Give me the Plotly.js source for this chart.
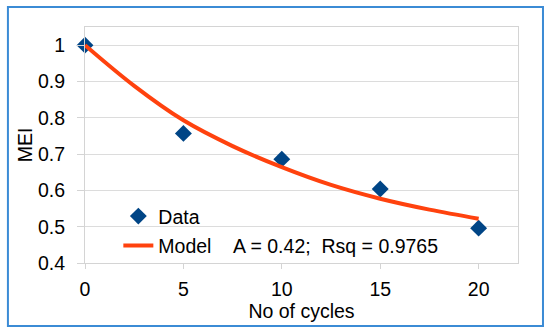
<!DOCTYPE html>
<html>
<head>
<meta charset="utf-8">
<script src="https://cdn.plot.ly/plotly-3.0.1.min.js"></script>
<style>
html,body{margin:0;padding:0;background:#fff;}
#chart{width:550px;height:330px;}
</style>
</head>
<body>
<div id="chart"></div>
<script>
// Measured data points
var cycles = [0, 5, 10, 15, 20];
var mei = [1.0, 0.757, 0.686, 0.604, 0.496];

// Model curve
var modelX = [0, 2.5, 5, 7.5, 10, 12.5, 15, 17.5, 20];
var modelY = [1.0, 0.888, 0.793, 0.722, 0.664, 0.615, 0.577, 0.547, 0.522];

var xTicks = [0, 5, 10, 15, 20];
var yTicks = [0.4, 0.5, 0.6, 0.7, 0.8, 0.9, 1];
var yTickText = ['0.4', '0.5', '0.6', '0.7', '0.8', '0.9', '1'];

var dataName = "Data";
var modelName = "Model\u00a0\u00a0\u00a0\u00a0A = 0.42;\u00a0\u00a0Rsq = 0.9765";

var traces = [
  {
    x: cycles, y: mei, type: 'scatter', mode: 'markers', name: dataName,
    legendgroup: 'a',
    marker: {symbol: 'diamond', size: 13, color: '#004586'},
    cliponaxis: false
  },
  {
    x: modelX, y: modelY, type: 'scatter', mode: 'lines', name: modelName,
    legendgroup: 'b',
    line: {color: '#ff420e', width: 4, shape: 'spline'},
    cliponaxis: false
  }
];

var fam = 'Liberation Sans, Arial, sans-serif';
var font = {family: fam, size: 19.5, color: '#000'};

var layout = {
  width: 550, height: 330,
  margin: {l: 85, r: 32, t: 27, b: 67},
  paper_bgcolor: '#fff', plot_bgcolor: '#fff',
  font: font,
  showlegend: true,
  legend: {
    x: 0.077, y: 0.28, xanchor: 'left', yanchor: 'top',
    bgcolor: 'rgba(0,0,0,0)', font: {family: fam, size: 19.5, color: '#000'},
    traceorder: 'grouped', tracegroupgap: 1
  },
  xaxis: {
    range: [0, 22], tickvals: xTicks, ticktext: xTicks.map(String),
    showgrid: false, zeroline: false,
    showline: true, linecolor: '#d4d4d4', linewidth: 1, mirror: true,
    ticks: 'outside', ticklen: 5, tickcolor: '#d4d4d4',
    ticklabelstandoff: 4,
    title: {text: 'No of cycles', font: {family: fam, size: 19.5, color: '#000'}, standoff: 2}
  },
  yaxis: {
    range: [0.4, 1.05], tickvals: yTicks, ticktext: yTickText,
    showgrid: true, gridcolor: '#dcdcdc', gridwidth: 1, zeroline: false,
    showline: true, linecolor: '#d4d4d4', linewidth: 1, mirror: true,
    ticks: 'outside', ticklen: 7, tickcolor: '#d4d4d4',
    ticklabelstandoff: 8,
    title: {text: 'MEI', font: {family: fam, size: 19.5, color: '#000'}, standoff: 0}
  },
  shapes: [{
    type: 'rect', xref: 'paper', yref: 'paper',
    x0: -0.178, x1: 1.0577, y0: -0.267, y1: 1.0847,
    line: {color: '#3b8bd5', width: 2}, fillcolor: 'rgba(0,0,0,0)', layer: 'above'
  }]
};

Plotly.newPlot('chart', traces, layout, {displayModeBar: false, staticPlot: true});
</script>
</body>
</html>
